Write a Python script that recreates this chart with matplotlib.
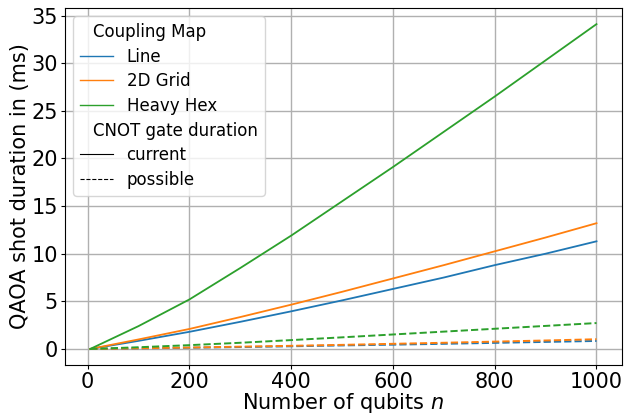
import matplotlib
matplotlib.use("Agg")
import matplotlib.pyplot as plt
from matplotlib.lines import Line2D

# qubit counts
n_qubits = [5, 100, 200, 300, 400, 500, 600, 700, 800, 900, 1000]

# current CNOT gate duration (ms)
line_current = [0.0, 0.85, 1.8, 2.85, 3.95, 5.1, 6.3, 7.5, 8.8, 10.0, 11.3]
grid_current = [0.0, 1.0, 2.1, 3.35, 4.65, 6.0, 7.4, 8.8, 10.25, 11.7, 13.2]
hex_current = [0.0, 2.4, 5.2, 8.5, 11.9, 15.5, 19.1, 22.8, 26.5, 30.3, 34.1]

# possible CNOT gate duration (ms)
line_possible = [0.0, 0.06, 0.13, 0.2, 0.28, 0.37, 0.45, 0.54, 0.64, 0.74, 0.84]
grid_possible = [0.0, 0.07, 0.15, 0.24, 0.33, 0.43, 0.54, 0.65, 0.77, 0.89, 1.02]
hex_possible = [0.0, 0.18, 0.4, 0.65, 0.93, 1.22, 1.52, 1.82, 2.12, 2.42, 2.72]

labels = ["Line", "2D Grid", "Heavy Hex"]
colors = ["tab:blue", "tab:orange", "tab:green"]

fig = plt.figure(figsize=(6.3, 4.15), dpi=100)
ax = fig.add_axes([0.103, 0.12, 0.884, 0.861])

for cur, pos, c in zip([line_current, grid_current, hex_current],
                       [line_possible, grid_possible, hex_possible], colors):
    ax.plot(n_qubits, cur, color=c, lw=1.3)
    ax.plot(n_qubits, pos, color=c, lw=1.4, ls="--")

ax.grid(True, color="#b0b0b0", lw=1)
ax.tick_params(labelsize=15, length=3, pad=2)
ax.set_xlabel("Number of qubits $n$", fontsize=15, labelpad=-1)
ax.set_ylabel("QAOA shot duration in (ms)", fontsize=15, labelpad=1)

# legend with sub headings
handles = [Line2D([], [], color="none")]
handles += [Line2D([], [], color=c, lw=1) for c in colors]
handles += [Line2D([], [], color="none"),
            Line2D([], [], color="black", lw=0.8),
            Line2D([], [], color="black", lw=0.8, ls="--")]
leg_labels = ["Coupling Map"] + labels + ["CNOT gate duration", "current", "possible"]
leg = ax.legend(handles, leg_labels, loc="upper left", fontsize=12,
                labelspacing=0.4)

# shift the heading texts left (no handle)
for col in leg._legend_handle_box.get_children():
    for row in col.get_children():
        kids = row.get_children()
        txt = kids[1].get_children()[0].get_text()
        if txt in ("Coupling Map", "CNOT gate duration"):
            kids[0].width = 0

fig.savefig("out.png", dpi=100)
